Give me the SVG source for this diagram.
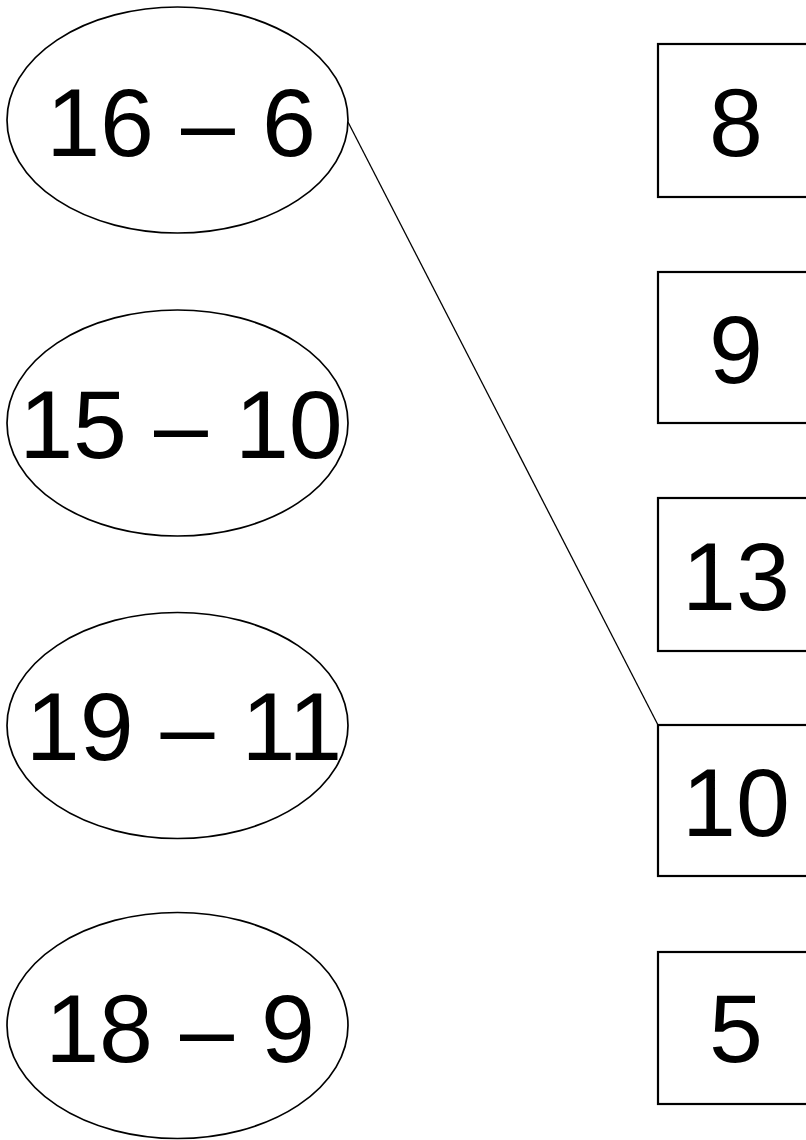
<svg xmlns="http://www.w3.org/2000/svg" width="806" height="1140" viewBox="0 0 806 1140">
<style>
.oval{fill:#fff;stroke:#000;stroke-width:1.7}
.box{fill:#fff;stroke:#000;stroke-width:2.2}
.t{font-family:"Liberation Sans",Arial,sans-serif;font-size:97px;fill:#000;text-anchor:middle}
.link{stroke:#000;stroke-width:1.3;fill:none}
</style>
<rect width="806" height="1140" fill="#fff"/>
<g id="e1"><ellipse class="oval" cx="177.5" cy="120" rx="170.5" ry="113"/><text class="t" x="181" y="156">16 – 6</text></g>
<g id="e2"><ellipse class="oval" cx="177.5" cy="423" rx="170.5" ry="113"/><text class="t" x="181" y="458">15 – 10</text></g>
<g id="e3"><ellipse class="oval" cx="177.5" cy="725.5" rx="170.5" ry="113"/><text class="t" x="184" y="760">19 – 11</text></g>
<g id="e4"><ellipse class="oval" cx="177.5" cy="1025.5" rx="170.5" ry="113"/><text class="t" x="180" y="1062">18 – 9</text></g>
<g id="b1"><rect class="box" x="658" y="44" width="200" height="153"/><text class="t" x="736" y="156">8</text></g>
<g id="b2"><rect class="box" x="658" y="272" width="200" height="151"/><text class="t" x="736" y="383">9</text></g>
<g id="b3"><rect class="box" x="658" y="498" width="200" height="153"/><text class="t" x="736" y="610">13</text></g>
<g id="b4"><rect class="box" x="658" y="725" width="200" height="151"/><text class="t" x="736" y="836">10</text></g>
<g id="b5"><rect class="box" x="658" y="952" width="200" height="152"/><text class="t" x="736" y="1062">5</text></g>
<g id="connectors"><line class="link" x1="348" y1="122" x2="658" y2="725"/></g>
</svg>
